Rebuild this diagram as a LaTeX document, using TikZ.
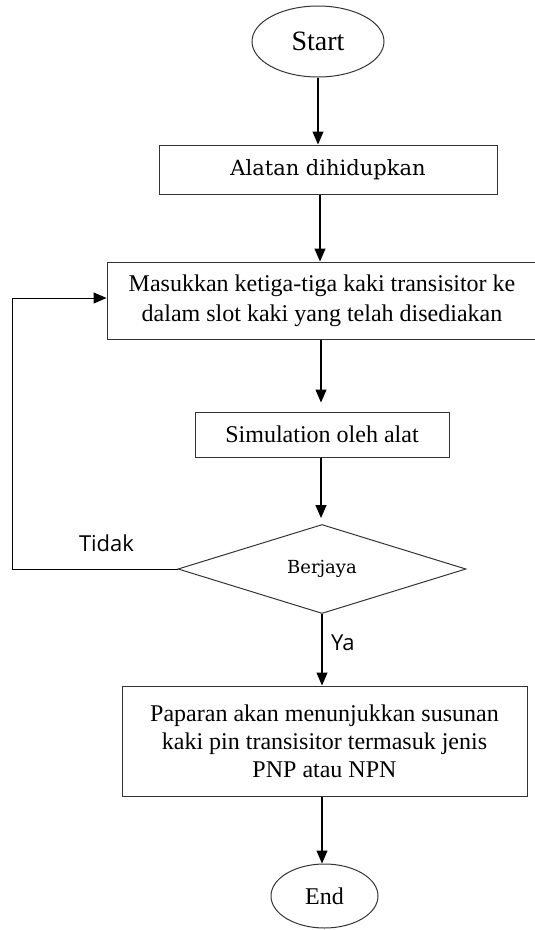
\documentclass[tikz,border=0pt]{standalone}
\usepackage{fontspec}
\setmainfont{Liberation Serif}
\newfontfamily\slabfont{DejaVu Serif}
\newfontfamily\labfont{Open Sans}
\usetikzlibrary{shapes.geometric,arrows.meta}
\begin{document}
\begin{tikzpicture}[x=1pt,y=-1pt,
  box/.style={draw=black!80,line width=1pt,rectangle,inner sep=0pt,align=center,font=\fontsize{24}{28}\selectfont},
  term/.style={draw=black!80,line width=1pt,ellipse,inner sep=0pt},
  arr/.style={line width=1.2pt,-{Triangle[length=13pt,width=11pt]}},
  lab/.style={font=\labfont\fontsize{22}{26}\selectfont,inner sep=0pt}]
\useasboundingbox (0,0) rectangle (535,930);
\node[term,minimum width=132pt,minimum height=71pt,font=\fontsize{28}{32}\selectfont] (start) at (318,41.5) {Start};
\node[box,minimum width=338pt,minimum height=49pt,font=\slabfont\fontsize{21}{26}\selectfont] (b1) at (328,169.5) {Alatan dihidupkan};
\node[box,minimum width=430pt,minimum height=77pt,font=\fontsize{24}{30}\selectfont] (b2) at (322,300.5) {Masukkan ketiga-tiga kaki transisitor ke\\dalam slot kaki yang telah disediakan};
\node[box,minimum width=254pt,minimum height=45pt] (b3) at (322,434.5) {Simulation oleh alat};
\node[draw=black!80,line width=1pt,diamond,inner sep=0pt,minimum width=288pt,minimum height=89pt,font=\slabfont\fontsize{18}{22}\selectfont] (d) at (322,569) {Berjaya};
\node[box,minimum width=405pt,minimum height=110pt] (b4) at (324.5,741) {Paparan akan menunjukkan susunan\\kaki pin transisitor termasuk jenis\\PNP atau NPN};
\node[term,minimum width=107pt,minimum height=64pt,font=\fontsize{24}{28}\selectfont] (end) at (324.5,896) {End};
\coordinate (ax) at (320,0);
\coordinate (bx) at (321,0);
\coordinate (lp) at (12,298);
\draw[arr] (start) -- (start |- b1.north);
\draw[arr] (b1.south -| ax) -- (b2.north -| ax);
\draw[arr,shorten >=9pt] (b2.south -| bx) -- (b3.north -| bx);
\draw[arr,shorten >=6pt] (b3.south -| bx) -- (d.north -| bx);
\draw[arr] (d.south) -- (b4.north -| d.south);
\draw[arr] (b4.south -| d.south) -- (end.north -| d.south);
\draw[arr,line width=1pt] (d.west) -| (lp) -- (lp -| b2.west);
\node[lab,anchor=base] (tidak) at (106.5,551) {Tidak};
\node[lab,anchor=base west] (ya) at (331,650) {Ya};
\end{tikzpicture}
\end{document}
